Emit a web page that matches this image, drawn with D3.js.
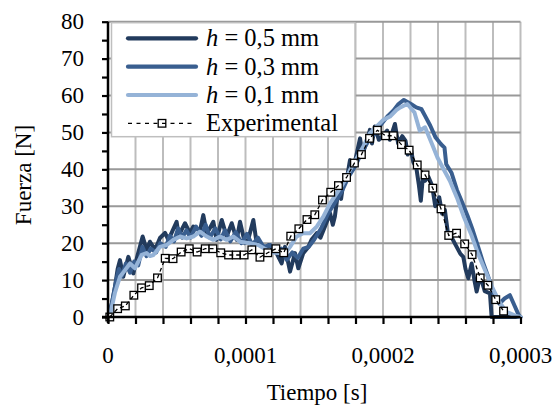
<!DOCTYPE html>
<html><head><meta charset="utf-8">
<script src="https://cdn.jsdelivr.net/npm/d3@7/dist/d3.min.js"></script>
<style>body{margin:0;background:#fff}svg{display:block}text{font-family:"Liberation Serif","Times New Roman",serif;fill:#000}</style>
</head><body><svg id="c" width="555" height="405"></svg>
<script>
// time in microseconds, force in N
const tH05 = [0,2,5,7,8.7,11.1,14.8,18.4,21,25.2,28.1,30.5,34.2,37.8,41.5,43.9,46.5,49.9,51.5,53.5,56,59.6,62,64.5,67,69.3,71.8,74,76.6,79,82.7,86.3,90,93.6,96,99.6,102,105.7,108.1,111,114.2,117,120.2,123,126.3,128.7,132.4,136,138.4,142,145.7,148,151.8,154.5,157.8,161.5,163.5,165,167.5,169.5,171.1,173.5,176,178,179.6,183.3,185,187,190.5,192,194,197,200.2,203,205,208.7,211,214,216.4,218,220.3,222,224.2,226,227.5,229,230.6,233,235.7,238,240.9,243,245,247.3,250,252.4,256.3,258.4,260,262,264.5,266.5,268.1,270,271.7,274,277.8,279,285,300];
const fH05 = [0,2,8,13,15.4,10.9,16.3,11.8,16,21.8,18.2,20.4,18.2,21.4,22.8,20.9,23,25.8,22,23.6,25.4,22.7,24.5,24,23.5,27.6,22.7,24,25.8,20.9,26.3,21.8,25.4,20.9,25.8,20,21,26.3,20,19.5,18.6,19.5,18.6,17,14.5,19,12.3,17.3,13.2,17.3,19,20.9,22.7,21.5,24.5,28.1,25,27.2,34.4,32,36.2,37,42.5,40,42.1,48.4,44,46.2,50.7,47,51.6,48,49.3,50.5,48,52.3,47,49,47.7,44,45.5,42,40.5,36,31.5,38,36.9,38,35.6,30,32.4,28,29,22.5,21.5,19.8,17.1,16.3,13,10.5,14.5,9.9,6.9,10,10,7,6.4,0,0,0];

const tH03 = [0,3,6,8,10,13,16,19,22,25,28,31,35,38,42,45,48,51,54,57,60,64,68,71,74,78,82,85,89,93,97,101,105,109,113,118,122,126,130,134,138,142,146,150,155,160,165,170,175,180,185,190,194.6,199.7,203.6,207.5,211.3,215.2,220.3,224.2,228,230.6,234.4,238.3,242.2,244.7,246,249.9,253.7,257.6,261.4,265.3,269.2,273,276.9,279.4,282,284.6,288.4,292.3,296.1,298.7,300];
const fH03 = [0,4,10,13,11,14.5,12,15,14,19,16.5,18.5,17.5,20,19,22,20.5,24,21.5,23.5,21.5,24.5,22,25,21.5,24,21,23.5,20.5,23,20,22.5,19.5,21.5,19,19.5,17.5,18.5,15.5,17.5,16,18.5,19,21,24,28,31,34,38,41,45,48,50,52.7,54.5,55.9,57.7,58.8,57.7,56.8,56.3,54.5,51.8,48.6,46.8,45.9,41.4,39,34.5,31,27.5,23.5,19,14.5,10.5,7.5,5,3.6,5,5.9,2.7,0.5,0];

const tH01 = [0,1.5,5,8.7,12.4,16,19.6,22,24.5,28.1,30.5,33,37.8,42.7,47.5,52.4,57.2,62,66.9,71.8,76.6,81.5,86.3,91.2,96,103.3,109.3,114,120,126,130,132.4,137.2,142,146.9,151.8,156.6,161.5,166.3,171.1,176,180.9,185.7,190.5,195.4,200.2,205.1,209.9,212.6,217.7,222.9,226.7,230.6,235.7,239.6,243.4,248.6,253.7,258.9,264,269.2,274.3,279.4,284.6,289.7,297.4,300];
const fH01 = [0,0.5,6.5,10.9,12.7,14.5,13.2,15,16.8,17.3,16.5,16.8,19,19.5,20.9,21.8,21.3,21.8,23.1,21.8,20.9,21.8,20.9,21.8,20.4,20,19.5,18.5,17.5,17.3,17.8,19,21.8,22.7,22.7,24.5,27.2,30.8,33.5,36.2,39.8,43,46.2,49.8,51.6,53.4,54.3,56.1,56.8,57.7,55.4,50.5,51.4,46.8,43.2,40.5,36.9,32.4,27,22.5,17.1,12.6,8.1,4.1,1.4,0.2,0];

const tExp = [1.3,7,12.6,18.8,24.4,30,36,41.6,47.3,53.2,59.1,64.8,70.7,76.3,82,87.7,93.3,99,104.6,110.5,116.2,122.1,127.8,132.9,138.8,144.7,150.4,156,162,167.6,173.5,179.2,184.3,190.2,195.9,201.8,207.5,213.4,219,224.9,230.6,236.2,242.2,247.8,253.5,259.4,264.8,270.7,276.3,282,287.7];
const fExp = [0,2.25,3.0,5.9,7.9,8.5,10.6,15.9,15.8,17.6,18.5,17.6,18.5,18.5,17.4,16.8,16.8,16.8,18.2,16.2,17.4,18.5,17.4,21.9,23.9,26.4,27.7,31.7,33.8,35.6,37.8,41.7,44.0,48.4,50.6,49.1,49.1,46.7,45.2,41.2,38.5,34.9,29.3,22.1,22.7,19.8,16.9,10.6,8.6,4.7,1.6];

const seriesNames = ["0,5 mm","0,3 mm","0,1 mm","Experimental"];
const seriesColors = ["#223b5d","#395e8f","#95b3d7","#000000"];
const xTickValues = [0,100,200,300];
const xTickLabels = ["0","0,0001","0,0002","0,0003"];
const yTickValues = [0,10,20,30,40,50,60,70,80];

const svg = d3.select("#c");
const L = 108, R = 520.5, T = 21.7, B = 317;
const x = d3.scaleLinear().domain([0,300]).range([L,R]);
const y = d3.scaleLinear().domain([0,80]).range([B,T]);

// grid
const g = svg.append("g");
g.selectAll(".vg").data(d3.range(20,301,20)).enter().append("line")
  .attr("x1",d=>x(d)).attr("x2",d=>x(d)).attr("y1",T).attr("y2",B)
  .attr("stroke","#bdbdbd").attr("stroke-width",2);
g.selectAll(".hg").data(d3.range(10,81,10)).enter().append("line")
  .attr("x1",L).attr("x2",R).attr("y1",d=>y(d)).attr("y2",d=>y(d))
  .attr("stroke","#999").attr("stroke-width",2);

// series
const sets = [[tH05,fH05],[tH03,fH03],[tH01,fH01]];
const line = d3.line().x(d=>x(d[0])).y(d=>y(d[1]));
sets.forEach((s,i)=>{
  const pts = s[0].map((t,j)=>[t,s[1][j]]);
  svg.append("path").datum(pts).attr("d",line).attr("fill","none")
    .attr("stroke",seriesColors[i]).attr("stroke-width",4)
    .attr("stroke-linejoin","round").attr("stroke-linecap","round");
});
const expPts = tExp.map((t,j)=>[t,fExp[j]]);
svg.append("g").selectAll("rect").data(expPts).enter().append("rect")
  .attr("x",d=>x(d[0])-3.8).attr("y",d=>y(d[1])-3.8).attr("width",7.6).attr("height",7.6)
  .attr("fill","#fff").attr("stroke","#000").attr("stroke-width",1.3);
svg.append("path").datum(expPts).attr("d",line).attr("fill","none")
  .attr("stroke","#000").attr("stroke-width",1.3).attr("stroke-dasharray","4,3");

// axes
const xAxis = d3.axisBottom(x).tickValues(d3.range(0,301,20)).tickSize(7).tickFormat("");
const ax = svg.append("g").attr("transform",`translate(0,${B})`).call(xAxis);
ax.select(".domain").attr("stroke","#000").attr("stroke-width",2.5).attr("d",`M${L-6},0H${R}`);
ax.selectAll(".tick line").attr("stroke","#000").attr("stroke-width",2.2);
const yAxis = d3.axisLeft(y).tickValues(d3.range(0,81,5)).tickSize(6).tickFormat("");
const ay = svg.append("g").attr("transform",`translate(${L},0)`).call(yAxis);
ay.select(".domain").attr("stroke","#000").attr("stroke-width",2.5).attr("d",`M0,${T}V${B+6}`);
ay.selectAll(".tick line").attr("stroke","#000").attr("stroke-width",2.2);

// tick labels
svg.selectAll(".xl").data(xTickValues).enter().append("text")
  .attr("x",d=>x(d)).attr("y",363).attr("text-anchor","middle").attr("font-size",23)
  .text((d,i)=>xTickLabels[i]);
svg.selectAll(".yl").data(yTickValues).enter().append("text")
  .attr("x",84).attr("y",d=>y(d)+7.5).attr("text-anchor","end").attr("font-size",23)
  .text(d=>d);
svg.append("text").attr("x",317).attr("y",400).attr("text-anchor","middle").attr("font-size",23).text("Tiempo [s]");
svg.append("text").attr("transform","translate(31,175) rotate(-90)").attr("text-anchor","middle").attr("font-size",23).text("Fuerza [N]");

// legend
const lg = svg.append("g");
lg.append("rect").attr("x",111.5).attr("y",22.7).attr("width",243.5).attr("height",114)
  .attr("fill","#fff").attr("stroke","#bfbfbf").attr("stroke-width",1.5);
const rowsY = [38.3,66.7,95,123.3];
seriesNames.forEach((n,i)=>{
  const yy = rowsY[i];
  if(i<3){
    lg.append("line").attr("x1",128).attr("x2",196).attr("y1",yy).attr("y2",yy)
      .attr("stroke",seriesColors[i]).attr("stroke-width",4.2).attr("stroke-linecap","round");
    const t = lg.append("text").attr("x",206).attr("y",yy+8).attr("font-size",24.5);
    t.append("tspan").attr("font-style","italic").text("h");
    t.append("tspan").text(" = "+n);
  } else {
    lg.append("rect").attr("x",162-3.8).attr("y",yy-3.8).attr("width",7.6).attr("height",7.6)
      .attr("fill","#fff").attr("stroke","#000").attr("stroke-width",1.3);
    lg.append("line").attr("x1",128).attr("x2",196).attr("y1",yy).attr("y2",yy)
      .attr("stroke","#000").attr("stroke-width",1.3).attr("stroke-dasharray","4,4.5");
    lg.append("text").attr("x",206).attr("y",yy+8).attr("font-size",24.5).text(n);
  }
});
</script></body></html>
